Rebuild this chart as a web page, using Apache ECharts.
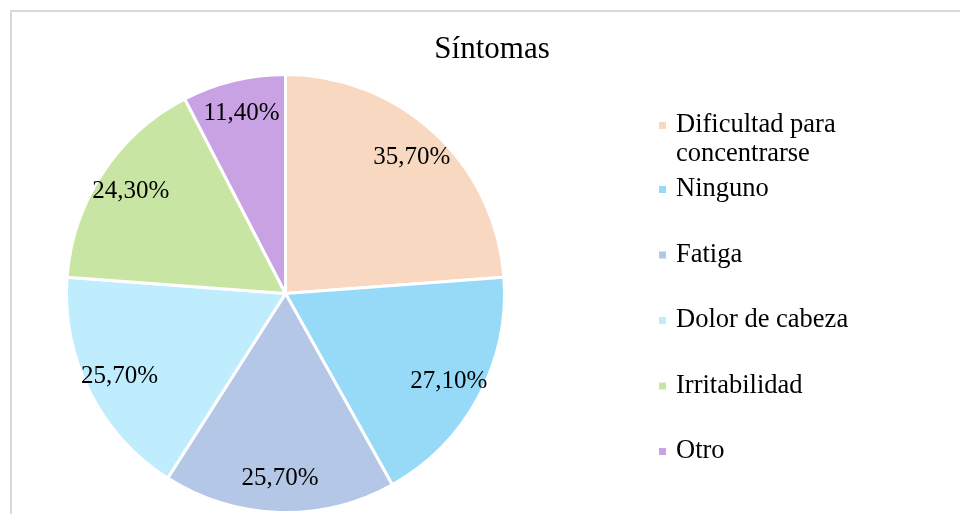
<!DOCTYPE html>
<html>
<head>
<meta charset="utf-8">
<script src="https://cdn.jsdelivr.net/npm/echarts@6/dist/echarts.min.js"></script>
<style>
  html, body { margin: 0; padding: 0; background: #fff; }
  #chart { width: 960px; height: 514px; }
</style>
</head>
<body>
<div id="chart"></div>
<script>
// datos del gráfico
const categories = ['Dificultad para concentrarse', 'Ninguno', 'Fatiga', 'Dolor de cabeza', 'Irritabilidad', 'Otro'];
const values = [35.7, 27.1, 25.7, 25.7, 24.3, 11.4];
const colors = ['#F8D8C1', '#97DAF7', '#B4C7E7', '#BFEDFE', '#C9E5A3', '#C9A2E3'];

const FONT = '"Liberation Serif", "Times New Roman", serif';

const pieData = categories.map((name, i) => ({ name, value: values[i] }));
const fmtPct = v => v.toFixed(2).replace('.', ',') + '%';

const chart = echarts.init(document.getElementById('chart'));

chart.setOption({
  backgroundColor: '#fff',
  color: colors,
  animation: false,
  graphic: [
    {
      type: 'rect',
      silent: true,
      shape: { x: 11, y: 11, width: 1200, height: 800 },
      style: { fill: 'none', stroke: '#d9d9d9', lineWidth: 2 }
    }
  ],
  title: {
    text: 'Síntomas',
    left: 487,
    textAlign: 'center',
    top: 29,
    textStyle: { fontFamily: FONT, fontSize: 31, fontWeight: 'normal', color: '#000' }
  },
  legend: [
    {
      orient: 'vertical',
      left: 657,
      top: 82,
      padding: 0,
      icon: 'rect',
      itemWidth: 9,
      itemHeight: 9,
      selectedMode: false,
      data: [categories[0]],
      formatter: () => '\nDificultad para\nconcentrarse',
      textStyle: { fontFamily: FONT, fontSize: 26.5, lineHeight: 29, color: '#000', padding: [0, 0, 0, 4] }
    },
    {
      orient: 'vertical',
      left: 657,
      top: 175,
      padding: 0,
      icon: 'rect',
      itemWidth: 9,
      itemHeight: 9,
      itemGap: 36.5,
      selectedMode: false,
      data: categories.slice(1),
      textStyle: { fontFamily: FONT, fontSize: 26.5, lineHeight: 29, color: '#000', padding: [0, 0, 0, 4] }
    }
  ],
  series: [
    {
      type: 'pie',
      center: [285.5, 293.5],
      radius: [0, 219],
      startAngle: 90,
      data: pieData,
      silent: true,
      label: { show: false },
      labelLine: { show: false },
      itemStyle: { borderColor: '#fff', borderWidth: 3 }
    },
    {
      // solo etiquetas, más cerca del borde como en el original
      type: 'pie',
      center: [285.5, 293.5],
      radius: [146, 219],
      startAngle: 90,
      data: pieData,
      silent: true,
      itemStyle: { color: 'transparent', borderWidth: 0 },
      label: {
        show: true,
        position: 'inside',
        formatter: p => fmtPct(p.value),
        fontFamily: FONT,
        fontSize: 25,
        color: '#000'
      },
      labelLine: { show: false }
    }
  ]
});
</script>
</body>
</html>
